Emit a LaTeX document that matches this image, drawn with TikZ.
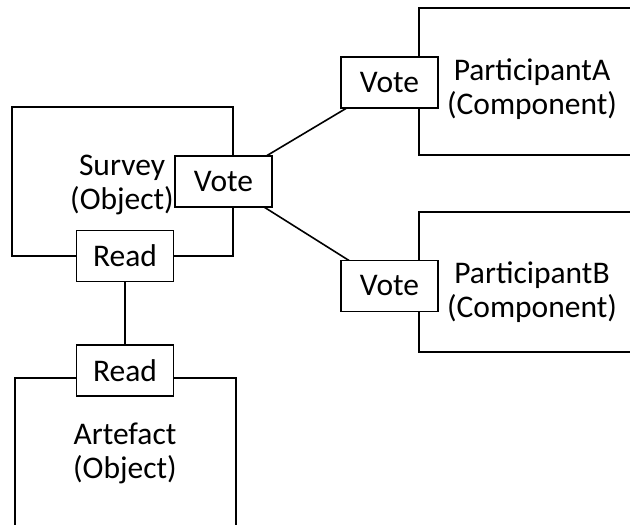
\documentclass[tikz,border=0pt]{standalone}
\usepackage{fontspec}
\setmainfont{Carlito}
\begin{document}
\begin{tikzpicture}[x=1pt,y=-1pt,
  line width=1.6pt,
  every node/.style={font=\fontsize{31.5}{34}\selectfont},
  part/.style={draw, rectangle, inner sep=0pt},
  port/.style={draw, fill=white, rectangle, inner sep=0pt,
               minimum width=97pt, minimum height=51pt},
  label/.style={align=center, inner sep=0pt},
  link/.style={draw}]
\useasboundingbox (0,0) rectangle (630,525);
\clip (0,0) rectangle (630,525);

% containers
\node[part, minimum width=221pt, minimum height=149pt] (survey) at (122.5,181.5) {};
\node[part, minimum width=260pt, minimum height=147pt] (partA) at (549,81.5) {};
\node[part, minimum width=260pt, minimum height=140pt] (partB) at (549,282) {};
\node[part, minimum width=221pt, minimum height=200pt] (artefact) at (125.5,478) {};

% container labels
\node[label] (surveyText) at (122,185) {Survey\\(Object)};
\node[label] (partAText) at (532,89) {ParticipantA\\(Component)};
\node[label] (partBText) at (532,292) {ParticipantB\\(Component)};
\node[label] (artefactText) at (125,453) {Artefact\\(Object)};

% connectors between ports
\coordinate (svc) at (223.5,181.5);
\coordinate (vac) at (389.5,82.5);
\coordinate (vbc) at (389.5,286);
\draw (svc) -- (vac);
\draw (svc) -- (vbc);
\draw (125,256) -- (125,370);

% ports
\node[port] (voteS) at (svc) {Vote};
\node[port] (voteA) at (vac) {Vote};
\node[port] (voteB) at (vbc) {Vote};
\node[port] (readS) at (125,256) {Read};
\node[port] (readA) at (125,370.5) {Read};
\end{tikzpicture}
\end{document}
